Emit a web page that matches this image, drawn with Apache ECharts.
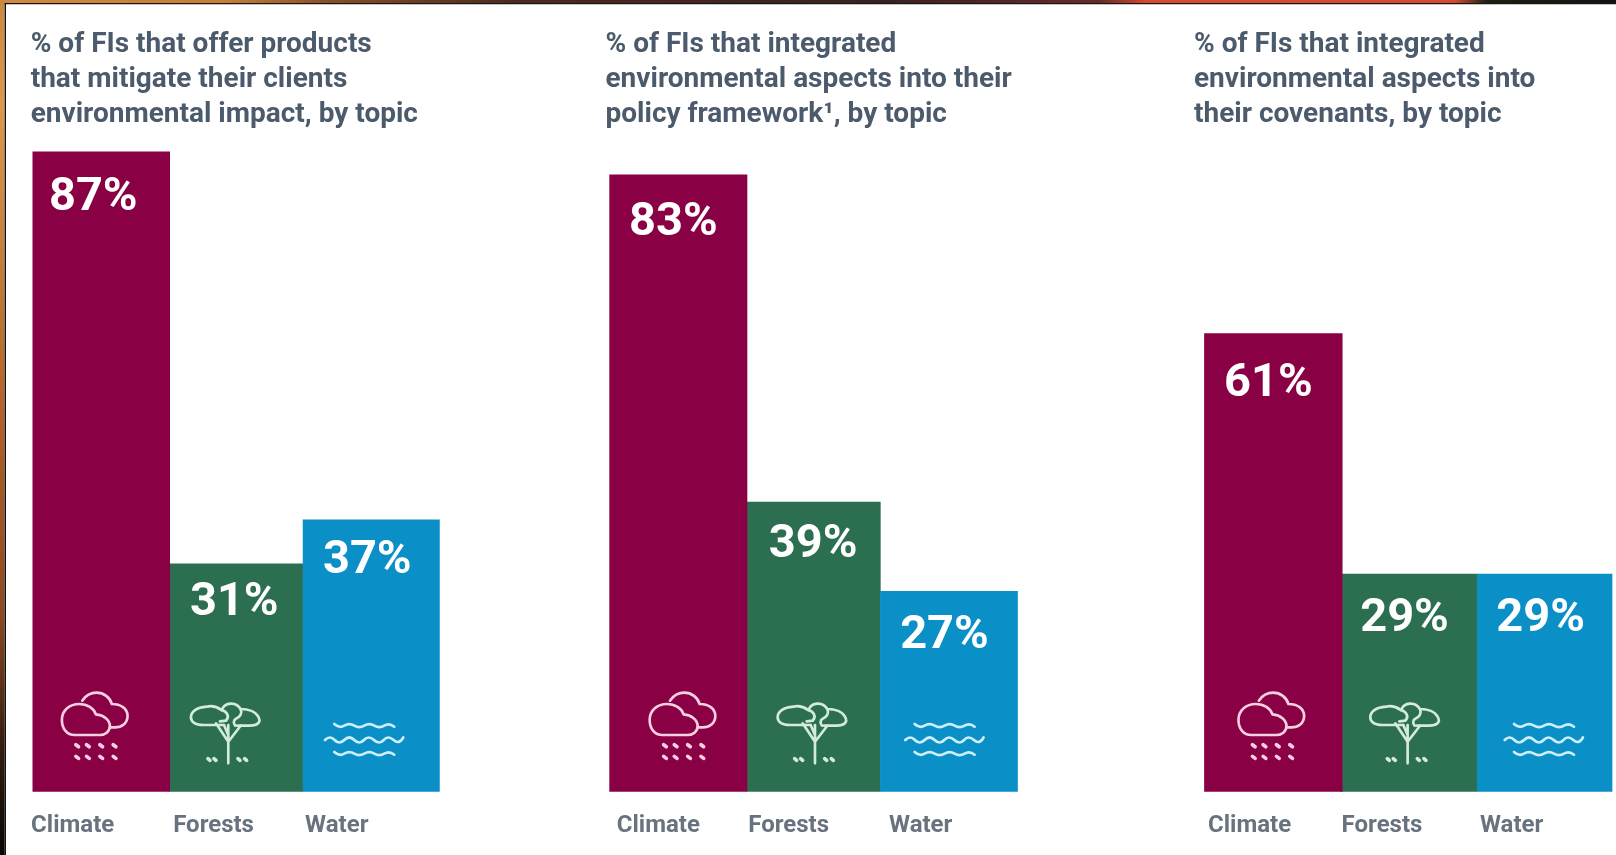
<!DOCTYPE html>
<html>
<head>
<meta charset="utf-8">
<title>Environmental topics among financial institutions</title>
<script src="https://cdn.jsdelivr.net/npm/echarts@6/dist/echarts.min.js"></script>
<style>
html, body { margin: 0; padding: 0; background: #fff; }
#chart { width: 1616px; height: 855px; }
</style>
</head>
<body>
<div id="chart"></div>
<script>
// Chart data
const categories = ['Climate', 'Forests', 'Water'];
const productValues = [87, 31, 37];
const policyValues = [83, 39, 27];
const covenantValues = [61, 29, 29];
const titles = [
  '% of FIs that offer products\nthat mitigate their clients\nenvironmental impact, by topic',
  '% of FIs that integrated\nenvironmental aspects into their\npolicy framework\u00b9, by topic',
  '% of FIs that integrated\nenvironmental aspects into\ntheir covenants, by topic'
];

// Panel layout
const FONT = 'Roboto, "Noto Sans", sans-serif';
const BASELINE = 791.7;
const topicColors = ['#8a0045', '#2b6f50', '#0a8fc7'];
const iconStrokes = ['#f7cfe1', '#d3ebdc', '#cdeefb'];
const panels = [
  { values: productValues, left: 33.75, width: 405, pxPerUnit: 7.36, titleLeft: 30.7,
    barWidths: [137.5, 134, 137],
    labelShift: [[-8, 24], [-2, 16.5], [-4, 19]],
    axisShift: [28.6, 22.7, 34.5],
    iconShift: [-6.7, -10.3, -7.3] },
  { values: policyValues, left: 610.65, width: 406, pxPerUnit: 7.437, titleLeft: 605.5,
    barWidths: [138, 134, 137.7],
    labelShift: [[-5, 25.6], [-0.6, 21], [-4.5, 22]],
    axisShift: [20, 25, 28.3],
    iconShift: [4, -1, -4.7] },
  { values: covenantValues, left: 1205.5, width: 407, pxPerUnit: 7.514, titleLeft: 1194,
    barWidths: [138.4, 137, 135.4],
    labelShift: [[-5, 28], [-4.5, 22], [-4, 22]],
    axisShift: [23.8, 27, 33],
    iconShift: [-2.2, -3.7, -1] }
];

// Line icons, authored on a 3x canvas; origin x, outline paths and heavier dot marks
const climateIcon = { ox: 284, paths: [
  'M225 225C200 225 186 205 186 180C186 150 210 132 238 132C262 132 282 145 288 163C312 165 330 180 330 198C330 215 315 225 300 225Z',
  'M247 122C258 106 272 98 290 98C312 98 330 112 336 132C362 132 383 145 383 168C383 190 365 202 345 202L330 202'
], dots: 'M228 254L236 260M260 254L268 260M300 254L308 260M340 254L348 260M228 289L236 295M260 289L268 295M300 289L308 295M340 289L348 295' };
const treeIcon = { ox: 678, paths: [
  'M672 195L610 195C585 195 573 185 573 172C573 155 590 142 620 140C640 135 655 143 665 150C675 126 708 124 722 147C745 147 767 155 775 170C785 187 772 197 750 197L712 197',
  'M665 150C682 155 690 170 678 182L660 184M722 147C728 160 720 172 708 176C700 180 700 190 706 197',
  'M685 310L685 195M685 245L648 190M685 245L722 197M672 195L685 225'
], dots: 'M624 296L630 301M642 296L648 301M714 296L720 301M734 296L740 301' };
const waterIcon = { ox: 1092, paths: [
  'M1003 192Q1018 206 1033 197T1063 197T1093 197T1123 197T1153 197T1183 200',
  'M975 240Q990 225 1004 240T1033 240T1063 240T1092 240T1122 240T1151 240T1181 240T1210 232',
  'M1003 276Q1018 290 1033 281T1063 281T1093 281T1123 281T1153 281T1183 284'
], dots: '' };
const topicIcons = [climateIcon, treeIcon, waterIcon];

function barSeries(panel, axisIndex, i) {
  const shift = panel.labelShift[i];
  return {
    type: 'bar',
    name: categories[i],
    xAxisIndex: axisIndex,
    yAxisIndex: axisIndex,
    barWidth: panel.barWidths[i],
    barMinWidth: panel.barWidths[i],
    clip: false,
    silent: true,
    z: i === 1 ? 1 : 2,
    itemStyle: { color: topicColors[i] },
    data: categories.map((c, k) => (k === i ? panel.values[i] : '-')),
    label: {
      show: true,
      position: 'insideTop',
      distance: shift[1],
      offset: [shift[0], 0],
      formatter: '{c}%',
      color: '#fff',
      fontFamily: FONT,
      fontWeight: 700,
      fontSize: 47,
      lineHeight: 46
    }
  };
}

function iconSeries(panel, axisIndex) {
  return {
    type: 'custom',
    xAxisIndex: axisIndex,
    yAxisIndex: axisIndex,
    silent: true,
    z: 5,
    data: panel.values.map((v, i) => [i, v]),
    renderItem(params, api) {
      const i = api.value(0);
      const base = api.coord([i, 0]);
      const icon = topicIcons[i];
      const place = (d, lineWidth) => ({
        type: 'path',
        x: base[0] + panel.iconShift[i] - icon.ox / 3,
        y: base[1] - 395 / 3,
        scaleX: 1 / 3,
        scaleY: 1 / 3,
        shape: { pathData: d },
        style: { fill: 'none', stroke: iconStrokes[i], lineWidth: lineWidth, lineCap: 'round', lineJoin: 'round' }
      });
      const children = icon.paths.map((d) => place(d, 8));
      if (icon.dots) children.push(place(icon.dots, 11));
      return { type: 'group', children: children };
    }
  };
}

const grid = [], xAxis = [], yAxis = [], series = [], title = [];
panels.forEach((panel, p) => {
  const height = panel.pxPerUnit * 100;
  grid.push({ left: panel.left, width: panel.width, top: BASELINE - height, height: height, containLabel: false });
  title.push({
    text: titles[p],
    left: panel.titleLeft,
    top: 27.5,
    padding: 0,
    textStyle: { fontFamily: FONT, fontWeight: 700, fontSize: 28, lineHeight: 35, color: '#4c5b6c' }
  });
  // Each topic's bar has its own width, so each gets its own band axis
  categories.forEach((c, k) => {
    xAxis.push({
      type: 'category',
      gridIndex: p,
      show: k === 0,
      data: categories.map((name, i) => ({
        value: name,
        textStyle: { padding: [0, panel.axisShift[i] * 2, 0, 0] }
      })),
      axisLine: { show: false },
      axisTick: { show: false },
      axisLabel: {
        interval: 0,
        margin: 22,
        fontFamily: FONT,
        fontWeight: 700,
        fontSize: 24,
        color: '#69727f'
      }
    });
    yAxis.push({ type: 'value', gridIndex: p, min: 0, max: 100, show: false });
    series.push(barSeries(panel, xAxis.length - 1, k));
  });
  series.push(iconSeries(panel, xAxis.length - 3));
});

// Edge strip along the top and left of the page
const frame = [
  { type: 'rect', left: 0, top: 0, z: 100, silent: true,
    shape: { width: 1616, height: 3 },
    style: { fill: { type: 'linear', x: 0, y: 0, x2: 1, y2: 0, colorStops: [
      { offset: 0, color: '#cf8a3f' }, { offset: 0.14, color: '#c67f35' }, { offset: 0.2, color: '#8c5026' },
      { offset: 0.32, color: '#4a2a1c' }, { offset: 0.55, color: '#3c2020' }, { offset: 0.68, color: '#6a2a26' },
      { offset: 0.71, color: '#d8482c' }, { offset: 0.9, color: '#d84a30' }, { offset: 0.92, color: '#1c2012' },
      { offset: 1, color: '#10140c' } ] } } },
  { type: 'rect', left: 0, top: 3, z: 100, silent: true,
    shape: { width: 1616, height: 1.3 }, style: { fill: '#14161c' } },
  { type: 'rect', left: 0, top: 0, z: 100, silent: true,
    shape: { width: 4.7, height: 855 },
    style: { fill: { type: 'linear', x: 0, y: 0, x2: 0, y2: 1, colorStops: [
      { offset: 0, color: '#c98a40' }, { offset: 0.12, color: '#d89a50' }, { offset: 0.5, color: '#ad6029' },
      { offset: 0.72, color: '#8a4a22' }, { offset: 0.86, color: '#3a2010' }, { offset: 1, color: '#080604' } ] } } },
  { type: 'rect', left: 4.7, top: 3, z: 100, silent: true,
    shape: { width: 1.3, height: 852 }, style: { fill: '#111' } }
];

const chart = echarts.init(document.getElementById('chart'), null, { renderer: 'canvas' });
chart.setOption({
  animation: false,
  backgroundColor: '#fff',
  tooltip: { show: false },
  title: title,
  grid: grid,
  xAxis: xAxis,
  yAxis: yAxis,
  series: series,
  graphic: { elements: frame }
});
</script>
</body>
</html>
